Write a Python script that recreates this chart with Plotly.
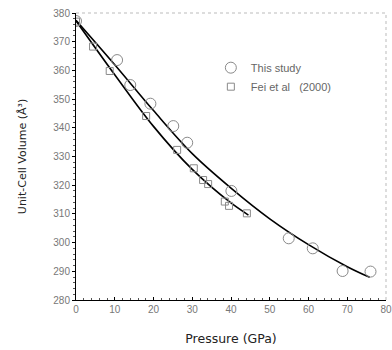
import plotly.graph_objects as go

# This study (open circles)
this_p = [0.0, 10.6, 14.0, 19.2, 25.1, 28.7, 40.1, 54.9, 61.1, 68.8, 76.0]
this_v = [377.2, 363.6, 354.9, 348.4, 340.6, 334.8, 318.0, 301.5, 298.0, 290.1, 289.9]

# Fei et al. (2000) (open squares)
fei_p = [0.0, 4.4, 8.7, 18.1, 26.1, 30.4, 32.8, 34.1, 38.4, 39.5, 44.1]
fei_v = [377.0, 368.3, 359.8, 344.1, 332.3, 325.9, 321.8, 320.4, 314.3, 312.8, 310.2]

# fitted curves
fit_this_p = [0, 10, 20, 30, 40, 50, 60, 70, 75.8]
fit_this_v = [377.5, 362.0, 346.0, 331.0, 319.0, 308.3, 299.3, 291.6, 287.9]
fit_fei_p = [0, 10, 20, 30, 40, 44.5]
fit_fei_v = [377.3, 358.5, 340.5, 325.5, 313.8, 309.6]

x_ticks = [0, 10, 20, 30, 40, 50, 60, 70, 80]
y_ticks = [280, 290, 300, 310, 320, 330, 340, 350, 360, 370, 380]

fig = go.Figure()
fig.add_trace(go.Scatter(x=fit_this_p, y=fit_this_v, mode="lines", line=dict(color="black", width=1.6, shape="spline"),
                         showlegend=False, hoverinfo="skip"))
fig.add_trace(go.Scatter(x=fit_fei_p, y=fit_fei_v, mode="lines", line=dict(color="black", width=1.6, shape="spline"),
                         showlegend=False, hoverinfo="skip"))
fig.add_trace(go.Scatter(x=this_p, y=this_v, mode="markers", name="This study",
                         marker=dict(symbol="circle-open", size=11, color="#8a8a8a", line=dict(width=1))))
fig.add_trace(go.Scatter(x=fei_p, y=fei_v, mode="markers", name="Fei et al   (2000)",
                         marker=dict(symbol="square-open", size=7, color="#8a8a8a", line=dict(width=1))))

fig.update_layout(
    width=392, height=350,
    margin=dict(l=76, r=6, t=13, b=50, autoexpand=False),
    paper_bgcolor="white", plot_bgcolor="white",
    font=dict(family="DejaVu Sans", color="#777777", size=10),
    legend=dict(x=0.435, y=0.86, xanchor="left", yanchor="top", bgcolor="rgba(0,0,0,0)",
                font=dict(size=11, color="#666666", family="Liberation Sans"),
                itemwidth=30, tracegroupgap=0),
    shapes=[
        dict(type="line", xref="paper", yref="paper", x0=0, x1=1, y0=1, y1=1,
             line=dict(color="#bbbbbb", width=1, dash="dot")),
        dict(type="line", xref="paper", yref="paper", x0=1, x1=1, y0=0, y1=1,
             line=dict(color="#bbbbbb", width=1, dash="dot")),
    ],
)
fig.update_xaxes(range=[0, 80], tickvals=x_ticks, showgrid=False, zeroline=False,
                 showline=True, linecolor="black", linewidth=1,
                 ticks="inside", ticklen=3, tickcolor="black", ticklabeloverflow="allow",
                 minor=dict(dtick=2, ticks="inside", ticklen=2, tickcolor="#555555"),
                 tickfont=dict(size=10, color="#777777", family="Liberation Sans"),
                 title=dict(text="Pressure (GPa)", font=dict(size=12.5, color="#222222", family="DejaVu Sans"), standoff=20))
fig.update_yaxes(range=[280, 380], tickvals=y_ticks, showgrid=False, zeroline=False,
                 showline=True, linecolor="black", linewidth=1,
                 ticks="outside", ticklen=3, tickcolor="black",
                 minor=dict(dtick=2, ticks="outside", ticklen=2, tickcolor="#555555"),
                 tickfont=dict(size=10, color="#777777", family="Liberation Sans"),
                 title=dict(text="Unit-Cell Volume (Å³)", font=dict(size=11, color="#222222", family="DejaVu Sans"), standoff=24))

fig.write_html("out.html", config={"displayModeBar": False},
               post_script="document.body.style.margin='0px';document.body.style.overflow='hidden';")
